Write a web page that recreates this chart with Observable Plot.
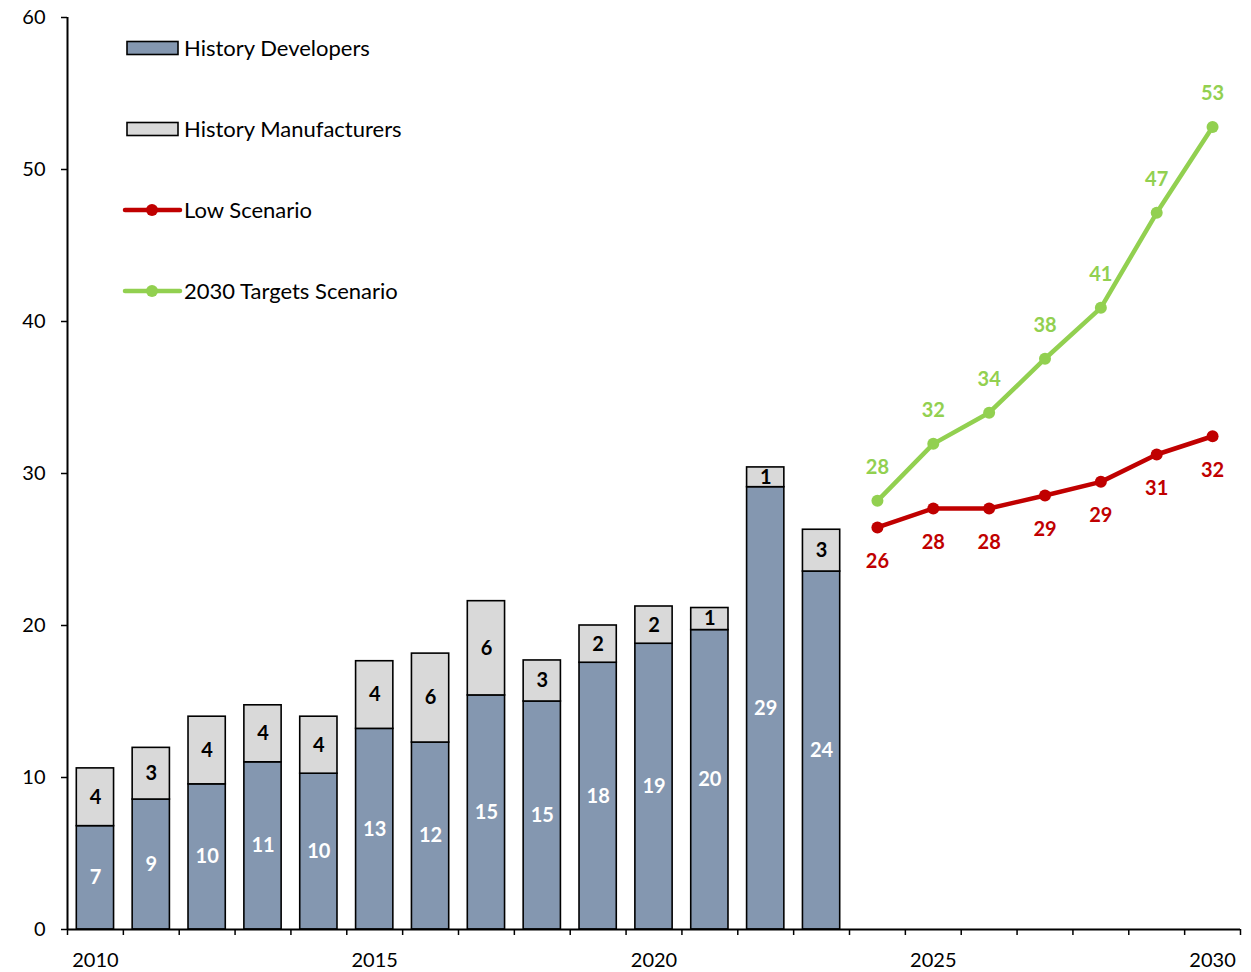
<!DOCTYPE html>
<html>
<head>
<meta charset="utf-8">
<script src="https://cdn.jsdelivr.net/npm/d3@7"></script>
<script src="https://cdn.jsdelivr.net/npm/@observablehq/plot@0.6"></script>
<style>
  body { margin: 0; background: #fff; }
  #chart svg { display: block; }
</style>
</head>
<body>
<div id="chart"></div>
<script>
// ---- Data ----
const years = [2010, 2011, 2012, 2013, 2014, 2015, 2016, 2017, 2018, 2019, 2020, 2021, 2022, 2023];
const developers = [6.8, 8.55, 9.55, 11.0, 10.25, 13.2, 12.3, 15.4, 15.0, 17.55, 18.8, 19.7, 29.1, 23.55];
const manufacturers = [3.8, 3.4, 4.45, 3.75, 3.75, 4.45, 5.85, 6.2, 2.7, 2.45, 2.45, 1.45, 1.3, 2.75];
const scenarioYears = [2024, 2025, 2026, 2027, 2028, 2029, 2030];
const lowScenario = [26.45, 27.7, 27.7, 28.55, 29.45, 31.25, 32.45];
const targetsScenario = [28.2, 31.95, 34.0, 37.55, 40.9, 47.15, 52.8];
const yTicks = [0, 10, 20, 30, 40, 50, 60];
const xLabelTicks = [2010, 2015, 2020, 2025, 2030];
const legendLabels = ["History Developers", "History Manufacturers", "Low Scenario", "2030 Targets Scenario"];

// ---- Tables ----
const hist = years.map((year, i) => ({year, dev: developers[i], mfr: manufacturers[i]}));
const low = scenarioYears.map((year, i) => ({year, v: lowScenario[i]}));
const tgt = scenarioYears.map((year, i) => ({year, v: targetsScenario[i]}));
const bandTicks = d3.range(years[0] - 0.5, scenarioYears[scenarioYears.length - 1] + 1, 1);

const devColor = "#8497B0", mfrColor = "#D9D9D9", lowColor = "#C00000", tgtColor = "#92D050";
const FONT = "Lato, 'Open Sans', sans-serif";
const fmt = d => String(Math.round(d));

const chart = Plot.plot({
  width: 1251,
  height: 972,
  marginLeft: 67,
  marginRight: 11,
  marginTop: 17,
  marginBottom: 43,
  style: {fontFamily: FONT, fontSize: "20px", color: "#000", background: "#fff"},
  x: {type: "linear", domain: [bandTicks[0], bandTicks[bandTicks.length - 1]]},
  y: {domain: [0, 60]},
  marks: [
    Plot.rectY(hist, {x1: d => d.year - 0.5, x2: d => d.year + 0.5, y1: 0, y2: "dev",
      fill: devColor, stroke: "#000", strokeWidth: 1.6, insetLeft: 9.3, insetRight: 9.3}),
    Plot.rectY(hist, {x1: d => d.year - 0.5, x2: d => d.year + 0.5, y1: "dev", y2: d => d.dev + d.mfr,
      fill: mfrColor, stroke: "#000", strokeWidth: 1.6, insetLeft: 9.3, insetRight: 9.3}),
    Plot.ruleY([0], {stroke: "#000", strokeWidth: 2}),
    Plot.ruleX([bandTicks[0]], {y1: 0, y2: 60, stroke: "#000", strokeWidth: 2}),
    Plot.axisY({ticks: yTicks, tickSize: 6, tickPadding: 16, label: null, fontSize: 20, strokeWidth: 1.5}),
    Plot.axisX({ticks: bandTicks, tickSize: 6, tickFormat: () => "", label: null, strokeWidth: 1.5}),
    Plot.axisX({ticks: xLabelTicks, tickSize: 0, tickPadding: 23, tickFormat: d => String(d), label: null, fontSize: 20}),
    Plot.text(hist, {x: "year", y: d => d.dev / 2, text: d => fmt(d.dev), fill: "#fff",
      fontWeight: "bold", fontSize: 20}),
    Plot.text(hist, {x: "year", y: d => d.dev + d.mfr / 2, text: d => fmt(d.mfr), fill: "#000",
      fontWeight: "bold", fontSize: 20}),
    Plot.line(low, {x: "year", y: "v", stroke: lowColor, strokeWidth: 4.5}),
    Plot.dot(low, {x: "year", y: "v", fill: lowColor, r: 6}),
    Plot.line(tgt, {x: "year", y: "v", stroke: tgtColor, strokeWidth: 4.5}),
    Plot.dot(tgt, {x: "year", y: "v", fill: tgtColor, r: 6}),
    Plot.text(low, {x: "year", y: "v", dy: 34, text: d => fmt(d.v), fill: lowColor, fontWeight: "bold", fontSize: 20}),
    Plot.text(tgt, {x: "year", y: "v", dy: -33, text: d => fmt(d.v), fill: tgtColor, fontWeight: "bold", fontSize: 20})
  ]
});

// ---- Legend (inside the SVG, upper left) ----
const svg = d3.select(chart);
const lg = svg.append("g").attr("font-family", FONT).attr("font-size", 22).attr("text-anchor", "start");
const rows = [48, 129, 210, 291];
legendLabels.forEach((label, i) => {
  const g = lg.append("g").attr("transform", `translate(0,${rows[i]})`);
  if (i < 2) {
    g.append("rect").attr("x", 127).attr("y", -6.5).attr("width", 51).attr("height", 13)
      .attr("fill", i === 0 ? devColor : mfrColor).attr("stroke", "#000").attr("stroke-width", 1.6);
  } else {
    const c = i === 2 ? lowColor : tgtColor;
    g.append("line").attr("x1", 125).attr("x2", 180).attr("y1", 0).attr("y2", 0)
      .attr("stroke", c).attr("stroke-width", 4.5).attr("stroke-linecap", "round");
    g.append("circle").attr("cx", 152).attr("cy", 0).attr("r", 6).attr("fill", c);
  }
  g.append("text").attr("x", 184).attr("y", 0).attr("dy", "0.35em").attr("fill", "#000")
    .attr("text-anchor", "start").text(label);
});

document.getElementById("chart").appendChild(chart);
</script>
</body>
</html>
